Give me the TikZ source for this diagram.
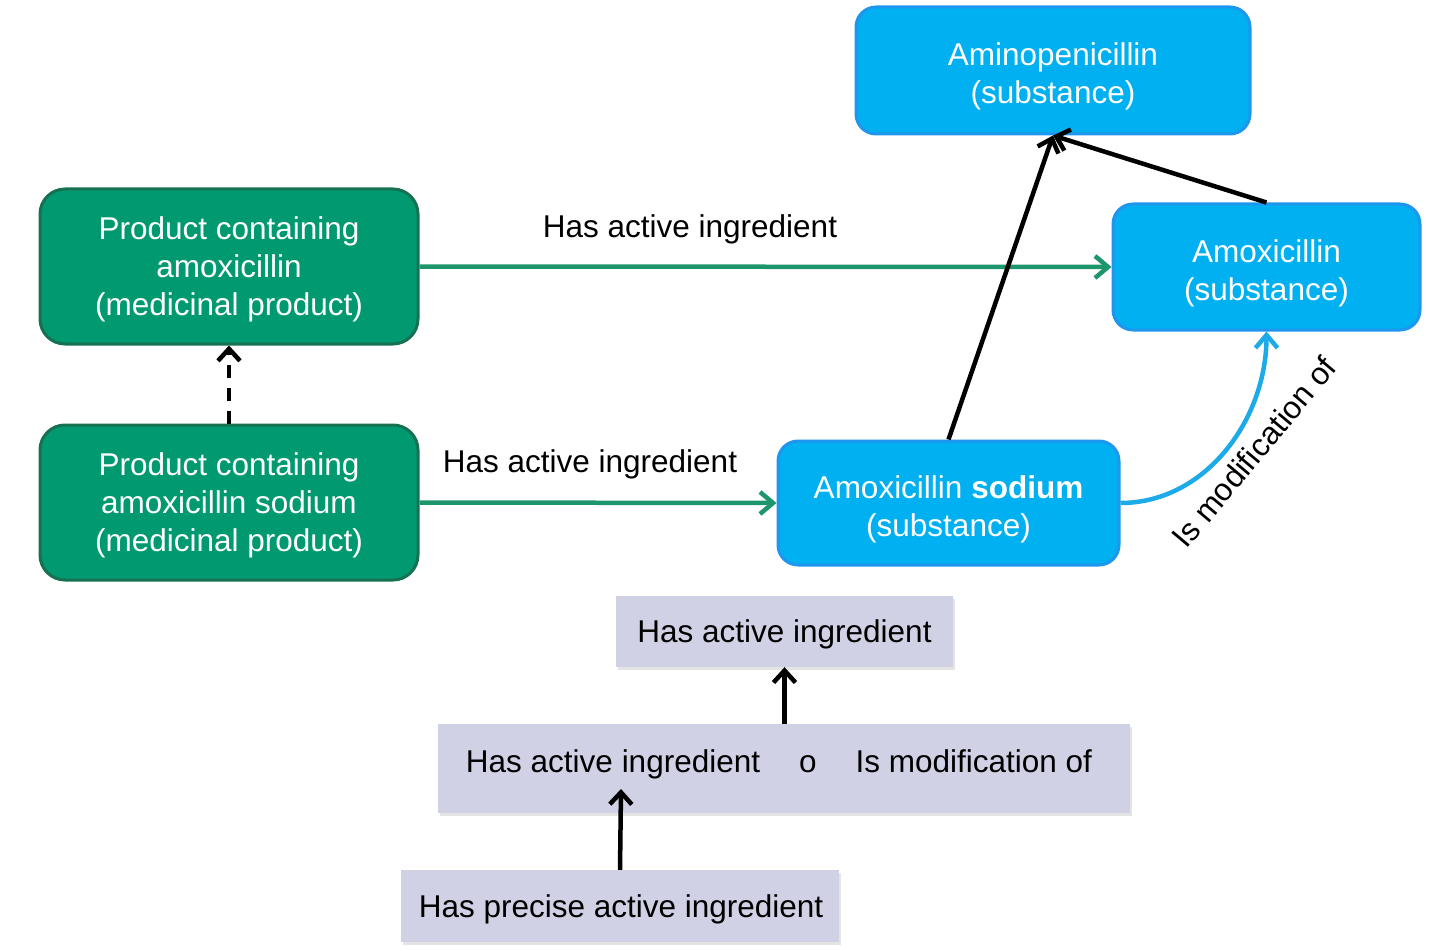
\documentclass[tikz,border=0pt]{standalone}
\usepackage{fontspec}
\setmainfont{Liberation Sans}
\usetikzlibrary{arrows.meta,shadows}
\definecolor{grfill}{RGB}{0,153,112}
\definecolor{grline}{RGB}{22,112,82}
\definecolor{grarrow}{RGB}{30,150,108}
\definecolor{blfill}{RGB}{0,176,240}
\definecolor{blline}{RGB}{30,150,238}
\definecolor{blarrow}{RGB}{28,170,232}
\definecolor{lav}{RGB}{209,209,230}
\tikzset{
  txt/.style={font=\fontsize{31.5}{38}\selectfont, align=center, inner sep=0pt},
  wtxt/.style={txt, text=white},
  greenbox/.style={draw=grline, line width=3pt, fill=grfill, rounded corners=25pt, minimum width=378pt, minimum height=155pt, inner sep=0pt},
  bluebox/.style={draw=blline, line width=3pt, fill=blfill, rounded corners=20pt, inner sep=0pt},
  lavbox/.style={fill=lav, inner sep=0pt, drop shadow={shadow xshift=2pt, shadow yshift=-3pt, fill=black!30, opacity=.35}},
  relarrow/.style={line width=4.5pt, -{Straight Barb[length=12pt,width=22pt]}},
  grnarrow/.style={draw=grarrow, line width=4.5pt, -{Straight Barb[length=13pt,width=22pt]}},
  bluarrow/.style={draw=blarrow, line width=4.5pt, -{Straight Barb[length=13pt,width=22pt]}},
}
\begin{document}
\begin{tikzpicture}[x=1pt,y=-1pt]
\useasboundingbox (0,0) rectangle (1430,952);
% top-level boxes
\node[greenbox] (g1) at (229,266.5) {};
\node[wtxt] (g1t) at ([yshift=-3pt]g1.center) {Product containing\\amoxicillin\\(medicinal product)};
\node[greenbox] (g2) at (229,502.5) {};
\node[wtxt] (g2t) at ([yshift=-3pt]g2.center) {Product containing\\amoxicillin sodium\\(medicinal product)};
\node[bluebox, minimum width=394pt, minimum height=127pt] (amino) at (1053,70.5) {};
\node[wtxt] (aminot) at ([yshift=-6pt]amino.center) {Aminopenicillin\\(substance)};
\node[bluebox, minimum width=307pt, minimum height=126pt] (amox) at (1266.5,267) {};
\node[wtxt] (amoxt) at ([yshift=-6pt]amox.center) {Amoxicillin\\(substance)};
\node[bluebox, minimum width=341pt, minimum height=124pt] (sod) at (948.5,503) {};
\node[wtxt] (sodt) at ([yshift=-6pt]sod.center) {Amoxicillin \textbf{sodium}\\(substance)};
% connectors
\draw[grnarrow] (g1.east) -- (amox.west);
\draw[grnarrow] (g2.east) -- (sod.west);
\draw[relarrow, dash pattern=on 13pt off 10pt] (g2.north) -- (g1.south);
\draw[relarrow] (sod.north) -- (amino.south);
\draw[relarrow] (amox.north) -- (amino.south);
\draw[bluarrow] (sod.east) .. controls (1205,503) and (1266.5,420) .. (amox.south);
% labels
\node[txt] (l1) at (690,229) {Has active ingredient};
\node[txt] (l2) at (590,464) {Has active ingredient};
\node[txt, rotate=50] (l3) at (1254,452) {Is modification of};
% lower property chain boxes
\node[lavbox, minimum width=337pt, minimum height=71pt] (ptop) at (784.5,631.5) {};
\node[txt] (ptopt) at (784.5,634) {Has active ingredient};
\node[lavbox, minimum width=692pt, minimum height=89pt] (pmid) at (784,768.5) {};
\node[txt] (pmidt) at (779,764) {Has active ingredient\hspace{39pt}o\hspace{39pt}Is modification of};
\node[lavbox, minimum width=438pt, minimum height=72pt] (pbot) at (620,906) {};
\node[txt] (pbott) at (621,909) {Has precise active ingredient};
\coordinate (midtip) at (621,789);
\draw[relarrow] (pbot.north) -- (midtip);
\draw[relarrow] (pmid.north -| ptop.south) -- (ptop.south);
\end{tikzpicture}
\end{document}
